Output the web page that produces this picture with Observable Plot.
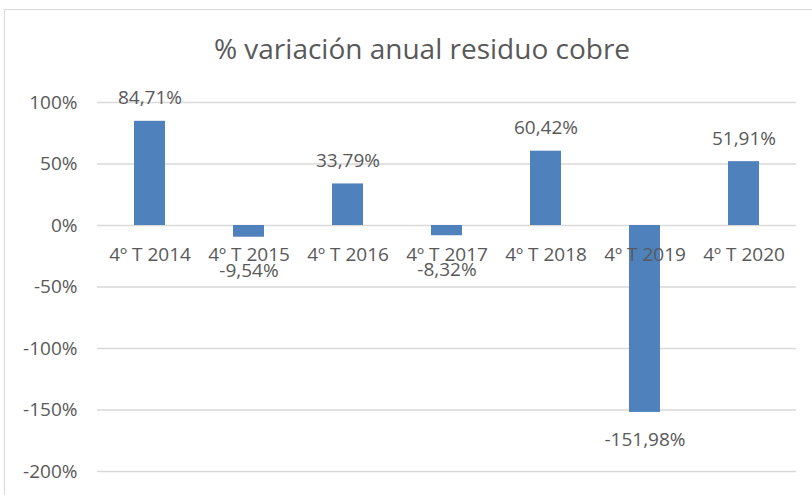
<!DOCTYPE html>
<html>
<head>
<meta charset="utf-8">
<script src="https://cdn.jsdelivr.net/npm/d3@7"></script>
<script src="https://cdn.jsdelivr.net/npm/@observablehq/plot@0.6"></script>
<style>
  html, body { margin: 0; padding: 0; background: #fff; }
  body { width: 812px; height: 495px; overflow: hidden; position: relative; font-family: "Open Sans", sans-serif; }
  #frame { position: absolute; left: 4px; top: 9px; width: 1000px; height: 1000px; border: 1px solid #d9d9d9; box-sizing: border-box; }
  #title { position: absolute; left: 0; top: 0; width: 844px; height: 80px; text-align: center; font-size: 28px; line-height: 28px; padding-top: 34px; box-sizing: border-box; color: #595959; }
  #chart { position: absolute; left: 0; top: 80px; }
  #chart svg { display: block; }
</style>
</head>
<body>
<div id="frame"></div>
<div id="title">% variación anual residuo cobre</div>
<div id="chart"></div>
<script>
const categories = ["4º T 2014", "4º T 2015", "4º T 2016", "4º T 2017", "4º T 2018", "4º T 2019", "4º T 2020"];
const values = [84.71, -9.54, 33.79, -8.32, 60.42, -151.98, 51.91];
const valueLabels = ["84,71%", "-9,54%", "33,79%", "-8,32%", "60,42%", "-151,98%", "51,91%"];
const yTicks = [-200, -150, -100, -50, 0, 50, 100];

const data = categories.map((c, i) => ({cat: c, v: values[i], label: valueLabels[i]}));

const textColor = "#595959";
const labelStyle = {x: "cat", y: "v", text: "label", fill: textColor, fontSize: 19};
const chart = Plot.plot({
  width: 812,
  height: 415,
  marginLeft: 97,
  marginRight: 16,
  marginTop: 22,
  marginBottom: 24,
  style: {fontFamily: "'Open Sans', sans-serif", fontSize: "19px", color: textColor, background: "transparent"},
  x: {domain: categories, paddingInner: 0.69, paddingOuter: 0.345, axis: null},
  y: {domain: [-200, 100], ticks: yTicks, tickFormat: d => d + "%", label: null},
  marks: [
    Plot.gridY(yTicks, {stroke: "#d9d9d9", strokeOpacity: 1, strokeWidth: 1.5}),
    Plot.axisY(yTicks, {tickSize: 0, tickPadding: 20, tickFormat: d => d + "%", fill: textColor, fontSize: 19, label: null}),
    Plot.barY(data, {x: "cat", y1: 0, y2: "v", fill: "#4f81bd"}),
    Plot.text(data, {x: "cat", y: 0, text: "cat", dy: 29, fill: textColor, fontSize: 19}),
    Plot.text(data, {...labelStyle, filter: d => d.v >= 0, dy: -23}),
    Plot.text(data, {...labelStyle, filter: d => d.v < 0 && d.v > -20, dy: 34}),
    Plot.text(data, {...labelStyle, filter: d => d.v <= -20, dy: 27})
  ]
});
document.getElementById("chart").appendChild(chart);
</script>
</body>
</html>
